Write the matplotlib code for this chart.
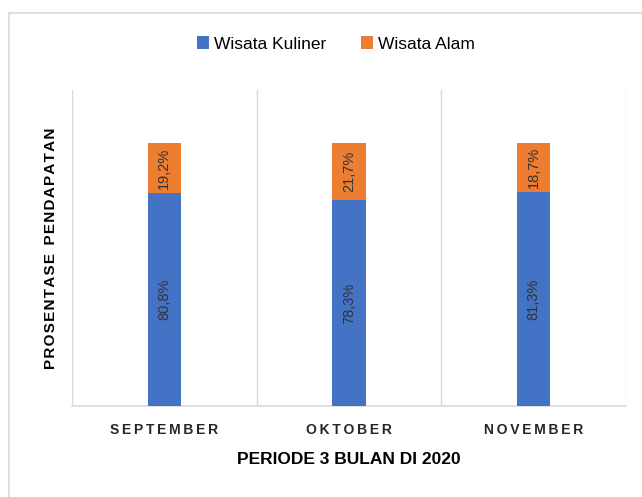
import numpy as np
import matplotlib.pyplot as plt
from matplotlib.patches import Rectangle

months = ['SEPTEMBER', 'OKTOBER', 'NOVEMBER']
kuliner = [80.8, 78.3, 81.3]
alam = [19.2, 21.7, 18.7]

blue = '#4472C4'
orange = '#ED7D31'

plt.rcParams['font.family'] = ['Liberation Sans', 'DejaVu Sans']

fig = plt.figure(figsize=(6.42, 4.97), dpi=100)
ax = fig.add_axes([72 / 642, 1 - 406 / 497, (626 - 72) / 642, (406 - 90) / 497])

# light frame around the chart like the original
fig.patches.append(Rectangle((9 / 642, -0.1), 1.2, 1 - 13 / 497 + 0.1, transform=fig.transFigure,
                             fill=False, edgecolor='#d9d9d9', linewidth=1.2))

x = np.arange(len(months))
w = 0.18
b1 = ax.bar(x, kuliner, w, color=blue, label='Wisata Kuliner', zorder=3)
b2 = ax.bar(x, alam, w, bottom=kuliner, color=orange, label='Wisata Alam', zorder=3)

for bars, vals, bottoms in [(b1, kuliner, [0, 0, 0]), (b2, alam, kuliner)]:
    for i, v in enumerate(vals):
        ax.text(x[i], bottoms[i] + v / 2, f'{v:.1f}%'.replace('.', ','), rotation=90,
                ha='center', va='center', fontsize=10.5, color='#333333', zorder=4)

ax.set_xlim(-0.5, 2.5)
ax.set_ylim(0, 120)
ax.set_yticks([])
for b in [-0.5, 0.5, 1.5, 2.5]:
    ax.axvline(b, color='#d9d9d9', linewidth=1, zorder=1)
for s in ['top', 'left', 'right']:
    ax.spines[s].set_visible(False)
ax.spines['bottom'].set_color('#d9d9d9')
ax.spines['bottom'].set_linewidth(1.2)

ax.set_xticks(x)
ax.set_xticklabels(['\u2009'.join(m) for m in months], fontsize=10, color='#262626',
                   fontweight='bold')
ax.tick_params(axis='x', length=0, pad=12)

ax.set_xlabel('PERIODE 3 BULAN DI 2020', fontsize=12.5, fontweight='bold', labelpad=11)
ylab = '  '.join('\u200a'.join(word) for word in ['PROSENTASE', 'PENDAPATAN'])
ax.set_ylabel(ylab, fontsize=11, fontweight='bold', labelpad=10)

fig.legend(loc='center', bbox_to_anchor=(336 / 642, 1 - 44 / 497), ncol=2, frameon=False,
           fontsize=12.5, handlelength=0.7, handleheight=0.7, handletextpad=0.3, columnspacing=2.0)

fig.savefig('out.png', dpi=100)
